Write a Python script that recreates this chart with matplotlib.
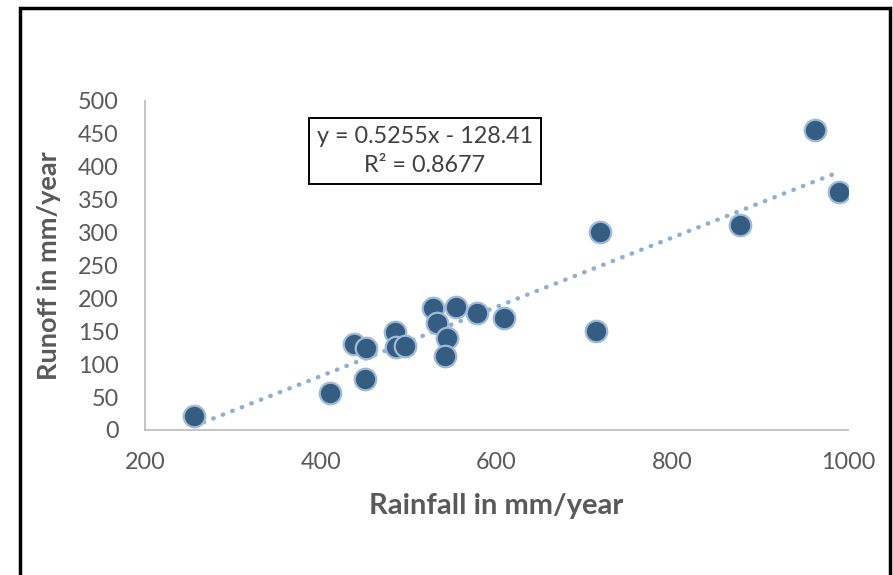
import matplotlib

matplotlib.use("Agg")

import matplotlib.pyplot as plt
from matplotlib.patches import Rectangle
import numpy as np

# values
rainfall = [256, 410, 438, 452, 450, 484, 486, 496, 528, 532,
            554, 544, 541, 578, 608, 713, 718, 877, 962, 990]
runoff = [21, 56, 131, 124, 77, 148, 126, 127, 185, 163,
          186, 139, 113, 178, 170, 150, 300, 311, 456, 361]
slope = 0.5255
intercept = -128.41
r_squared = 0.8677
x_ticks = [200, 400, 600, 800, 1000]
y_ticks = list(range(0, 501, 50))

plt.rcParams["font.family"] = ["Lato", "DejaVu Sans"]

fig = plt.figure(figsize=(8.93, 5.75), dpi=100)
ax = fig.add_axes([0.1624, 0.2522, 0.7872, 0.5730])

# trend line over the data range
xs = np.array([min(rainfall), max(rainfall)])
ax.plot(xs, slope * xs + intercept, linestyle=(0, (0.1, 2.2)), dash_capstyle="round",
        color="#8fb0d3", linewidth=3.2, zorder=2)

ax.scatter(rainfall, runoff, s=240, color="#355d82", edgecolors="#9dbbd8",
           linewidths=1.6, zorder=3)

ax.set_xlim(200, 1000)
ax.set_ylim(0, 500)
ax.set_xticks(x_ticks)
ax.set_yticks(y_ticks)
ax.tick_params(length=0, labelsize=16.8, labelcolor="#595959")
ax.tick_params(axis="x", pad=16)
ax.tick_params(axis="y", pad=19)
for side in ("top", "right"):
    ax.spines[side].set_visible(False)
for side in ("left", "bottom"):
    ax.spines[side].set_color("#bfbfbf")
    ax.spines[side].set_linewidth(1.3)

ax.set_xlabel("Rainfall in mm/year", fontsize=21, fontweight="bold", color="#595959", labelpad=14)
ax.set_ylabel("Runoff in mm/year", fontsize=19.5, fontweight="bold", color="#595959", labelpad=12)

ax.text(0.398, 0.847, f"y = {slope}x - {abs(intercept)}\nR² = {r_squared}",
        transform=ax.transAxes, ha="center", va="center", fontsize=16.8,
        color="#404040", linespacing=1.45,
        bbox=dict(boxstyle="square,pad=0.35", facecolor="white", edgecolor="black", linewidth=1.4))

# outer chart border (bottom edge lies outside the image)
fig.patches.append(Rectangle((20 / 893, -0.05), 870 / 893, 1.05 - 8 / 575,
                             transform=fig.transFigure, fill=False,
                             edgecolor="black", linewidth=2.5))

fig.savefig("out.png", dpi=100)
